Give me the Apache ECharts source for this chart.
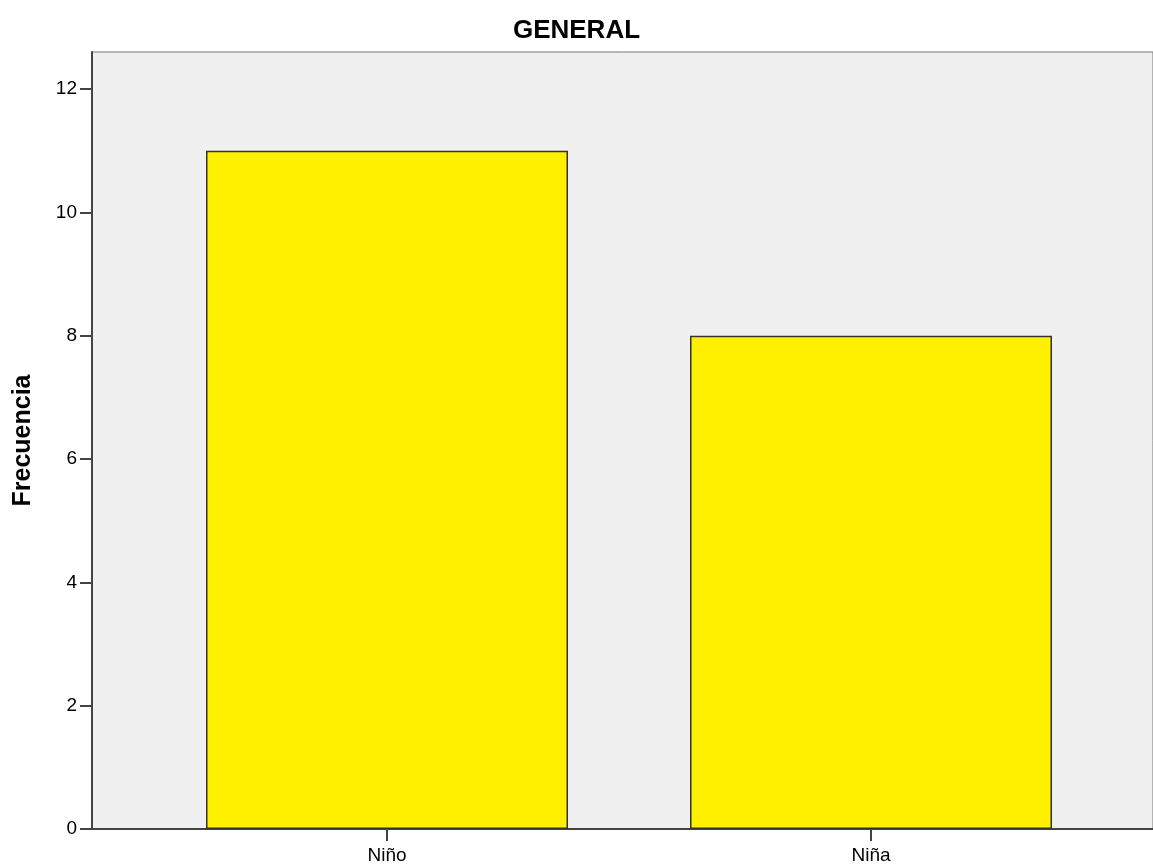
<!DOCTYPE html>
<html>
<head>
<meta charset="utf-8">
<script src="https://cdn.jsdelivr.net/npm/echarts@6/dist/echarts.min.js"></script>
<style>
html,body{margin:0;padding:0;background:#fff;}
#c{width:1153px;height:867px;}
</style>
</head>
<body>
<div id="c"></div>
<script>
const categories = ['Niño', 'Niña'];
const frecuencia = [11, 8];
const yTicks = [0, 2, 4, 6, 8, 10, 12];

const font = '"Liberation Sans", Arial, sans-serif';
const chart = echarts.init(document.getElementById('c'));
chart.setOption({
  backgroundColor: '#ffffff',
  animation: false,
  title: {
    text: 'GENERAL',
    left: 'center',
    top: 13,
    textStyle: { fontFamily: font, fontSize: 26, fontWeight: 'bold', color: '#000' }
  },
  grid: [
    { left: 145, width: 968, top: 52, bottom: 38, containLabel: false },
    { left: 92, right: -13, top: 52, bottom: 38, show: true, backgroundColor: '#f0f0f0', borderColor: '#777', borderWidth: 1, z: 0 }
  ],
  xAxis: [
    {
      type: 'category', gridIndex: 0, data: categories,
      axisLine: { show: false },
      axisTick: { show: true, alignWithLabel: true, length: 12, lineStyle: { color: '#444', width: 2 } },
      axisLabel: { fontFamily: font, fontSize: 19, color: '#000', margin: 17 },
      splitLine: { show: false }
    },
    {
      type: 'value', gridIndex: 1, min: 0, max: 1,
      axisLine: { show: true, onZero: false, lineStyle: { color: '#444', width: 2 } },
      axisTick: { show: false }, axisLabel: { show: false }, splitLine: { show: false }
    }
  ],
  yAxis: [
    { type: 'value', gridIndex: 0, min: 0, max: 12.6, show: false, splitLine: { show: false } },
    {
      type: 'value', gridIndex: 1, min: 0, max: 12.6,
      name: 'Frecuencia', nameLocation: 'middle', nameGap: 56,
      nameTextStyle: { fontFamily: font, fontSize: 25, fontWeight: 'bold', color: '#000' },
      axisLine: { show: true, lineStyle: { color: '#444', width: 2 } },
      axisTick: { show: true, length: 12, customValues: yTicks, lineStyle: { color: '#444', width: 2 } },
      axisLabel: {
        fontFamily: font, fontSize: 19, color: '#000', margin: 15,
        customValues: yTicks
      },
      splitLine: { show: false }
    }
  ],
  series: [{
    type: 'bar', xAxisIndex: 0, yAxisIndex: 0,
    data: frecuencia, barWidth: 362,
    itemStyle: { color: '#fff000', borderColor: '#333', borderWidth: 1.5 },
    z: 5
  }]
});
</script>
</body>
</html>
